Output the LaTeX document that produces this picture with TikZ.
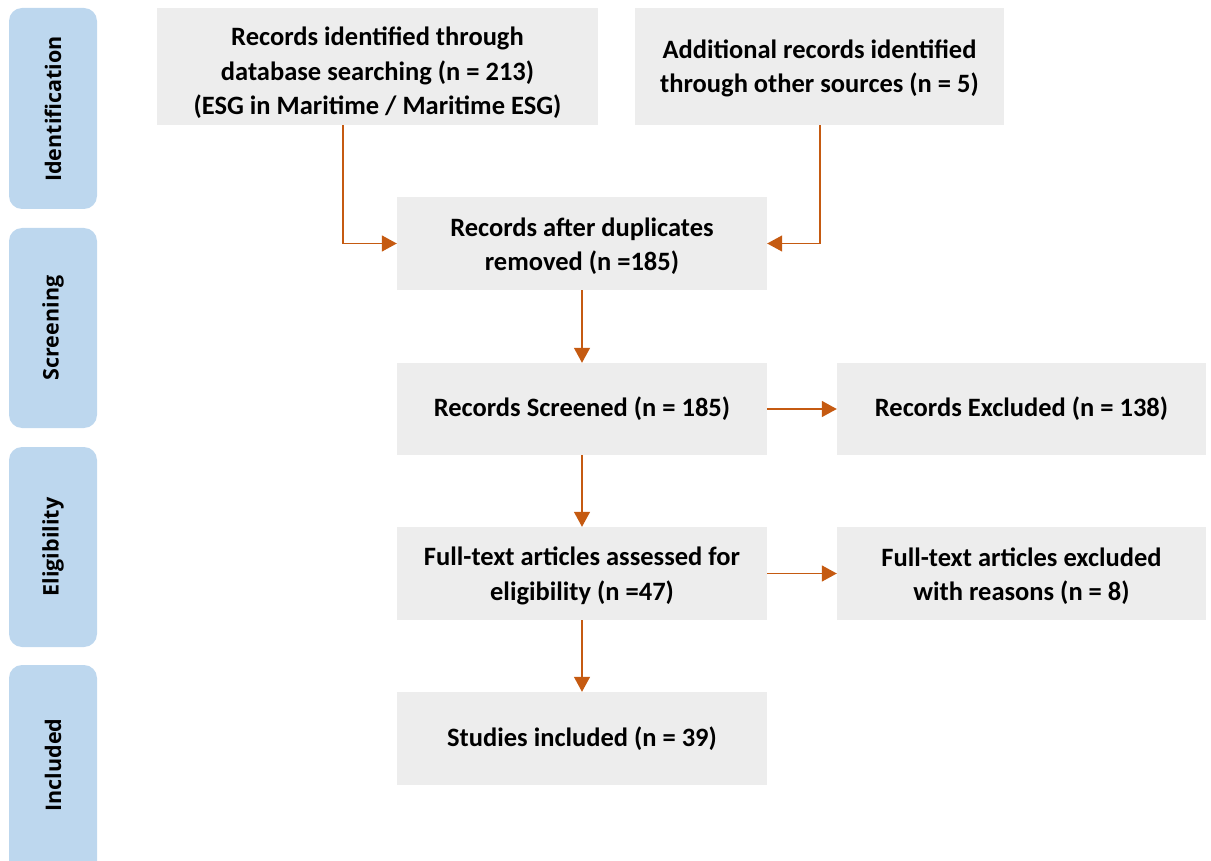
\documentclass[tikz,border=0pt]{standalone}
\usepackage{fontspec}
\setmainfont{Carlito}
\newfontfamily\sidefont{Open Sans}[BoldFont={* Bold}]
\usetikzlibrary{arrows.meta}
\definecolor{boxgray}{HTML}{EDEDED}
\definecolor{sideblue}{HTML}{BDD7EE}
\definecolor{arrowc}{HTML}{C55A11}
\begin{document}
\begin{tikzpicture}[x=1pt,y=-1pt,
  box/.style={fill=boxgray,draw=none,align=center,inner sep=0pt,
    font=\fontsize{26.5}{34.5}\selectfont\bfseries},
  boxtext/.style={align=center,inner sep=0pt,
    font=\fontsize{26.5}{34.5}\selectfont\bfseries},
  sidelabel/.style={rotate=90,font=\sidefont\fontsize{21.5}{24}\selectfont\bfseries},
  conn/.style={draw=arrowc,line width=1.4pt,-{Triangle[length=15pt,width=16pt]}}]
\useasboundingbox (0,0) rectangle (1211,861);
\begin{scope}
\clip (0,0) rectangle (1211,861);
\fill[sideblue,rounded corners=13pt] (9,8) rectangle (97,209);
\fill[sideblue,rounded corners=13pt] (9,228) rectangle (97,428);
\fill[sideblue,rounded corners=13pt] (9,447) rectangle (97,647);
\fill[sideblue,rounded corners=13pt] (9,665) rectangle (97,880);
\end{scope}
\node[sidelabel] (l1) at (53,109) {Identification};
\node[sidelabel] (l2) at (53,328) {Screening};
\node[sidelabel] (l3) at (53,547) {Eligibility};
\node[sidelabel] (l4) at (53,765) {Included};

\node[box,minimum width=441pt,minimum height=117pt] (b1) at (377.5,66.5) {};
\node[boxtext] (b1t) at (377.5,73)
  {Records identified through\\database searching (n = 213)\\(ESG in Maritime / Maritime ESG)};
\node[box,minimum width=369pt,minimum height=117pt] (b2) at (819.5,66.5) {};
\node[boxtext] (b2t) at (819.5,68.5)
  {Additional records identified\\through other sources (n = 5)};
\node[box,minimum width=370pt,minimum height=93pt] (b3) at (582,243.5) {};
\node[boxtext] (b3t) at (582,246)
  {Records after duplicates\\removed (n =185)};
\node[box,minimum width=370pt,minimum height=92pt] (b4) at (582,409)
  {Records Screened (n = 185)};
\node[box,minimum width=369pt,minimum height=92pt] (b5) at (1021.5,409)
  {Records Excluded (n = 138)};
\node[box,minimum width=370pt,minimum height=93pt] (b6) at (582,573.5) {};
\node[boxtext] (b6t) at (582,576)
  {Full-text articles assessed for\\eligibility (n =47)};
\node[box,minimum width=369pt,minimum height=93pt] (b7) at (1021.5,573.5) {};
\node[boxtext] (b7t) at (1021.5,576)
  {Full-text articles excluded\\with reasons (n = 8)};
\node[box,minimum width=370pt,minimum height=93pt] (b8) at (582,738.5)
  {Studies included (n = 39)};

\draw[conn] (b1.south -| 343,0) |- (b3.west);
\draw[conn] (b2.south -| 820,0) |- (b3.east);
\draw[conn] (b3) -- (b4);
\draw[conn] (b4) -- (b5);
\draw[conn] (b4) -- (b6);
\draw[conn] (b6) -- (b7);
\draw[conn] (b6) -- (b8);
\end{tikzpicture}
\end{document}
